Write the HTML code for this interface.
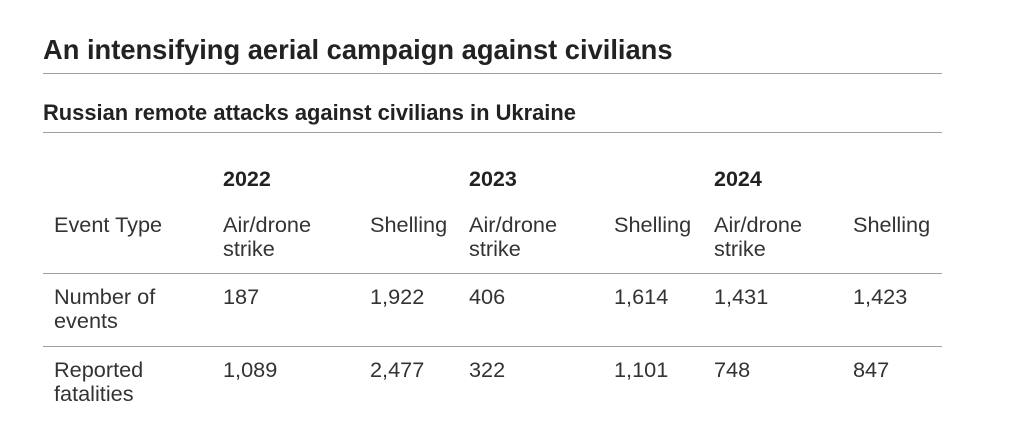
<!DOCTYPE html>
<html><head><meta charset="utf-8"><style>
html,body{margin:0;padding:0;background:#fff;width:1024px;height:429px;overflow:hidden}
body{position:relative;font-family:"Liberation Sans",Arial,sans-serif;color:#333}
.t{position:absolute;white-space:nowrap;line-height:24px}
.hr{position:absolute;left:43px;width:899px;height:1px;background:#a0a0a0}
.b{font-weight:bold;color:#222}
.n{font-size:21.7px}
</style></head><body>
<div class="t b" style="left:43px;top:36px;font-size:27.3px;line-height:28px">An intensifying aerial campaign against civilians</div>
<div class="hr" style="top:73px"></div>
<div class="t b" style="left:43px;top:101px;font-size:21.9px">Russian remote attacks against civilians in Ukraine</div>
<div class="hr" style="top:132px"></div>

<div class="t b" style="left:223px;top:167px;font-size:21.5px">2022</div>
<div class="t b" style="left:469px;top:167px;font-size:21.5px">2023</div>
<div class="t b" style="left:714px;top:167px;font-size:21.5px">2024</div>

<div class="t n" style="left:54px;top:213px">Event Type</div>
<div class="t n" style="left:223px;top:213px">Air/drone<br>strike</div>
<div class="t n" style="left:370px;top:213px">Shelling</div>
<div class="t n" style="left:469px;top:213px">Air/drone<br>strike</div>
<div class="t n" style="left:614px;top:213px">Shelling</div>
<div class="t n" style="left:714px;top:213px">Air/drone<br>strike</div>
<div class="t n" style="left:853px;top:213px">Shelling</div>
<div class="hr" style="top:273px"></div>

<div class="t n" style="left:54px;top:285px">Number of<br>events</div>
<div class="t n" style="left:223px;top:285px">187</div>
<div class="t n" style="left:370px;top:285px">1,922</div>
<div class="t n" style="left:469px;top:285px">406</div>
<div class="t n" style="left:614px;top:285px">1,614</div>
<div class="t n" style="left:714px;top:285px">1,431</div>
<div class="t n" style="left:853px;top:285px">1,423</div>
<div class="hr" style="top:346px"></div>

<div class="t n" style="left:54px;top:358px">Reported<br>fatalities</div>
<div class="t n" style="left:223px;top:358px">1,089</div>
<div class="t n" style="left:370px;top:358px">2,477</div>
<div class="t n" style="left:469px;top:358px">322</div>
<div class="t n" style="left:614px;top:358px">1,101</div>
<div class="t n" style="left:714px;top:358px">748</div>
<div class="t n" style="left:853px;top:358px">847</div>
</body></html>
